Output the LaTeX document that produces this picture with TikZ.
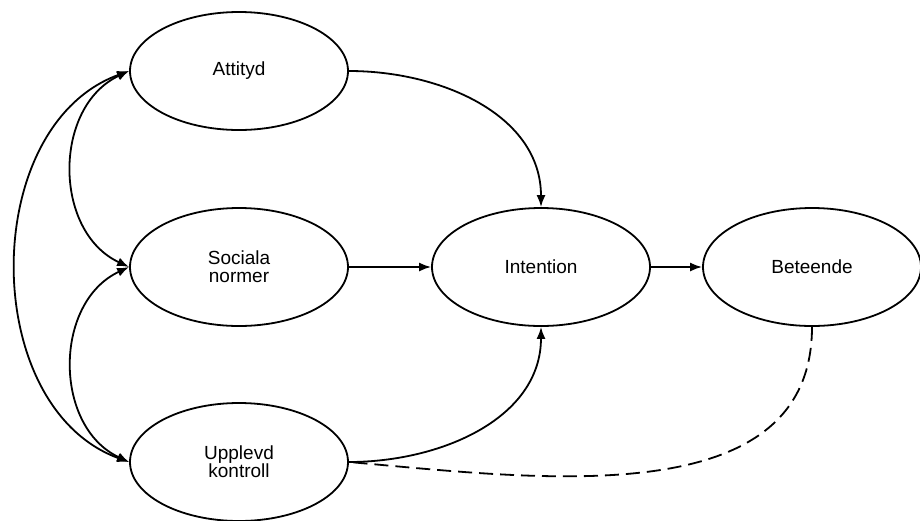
\documentclass[tikz,border=0pt]{standalone}
\usepackage{fontspec}
\setmainfont{Liberation Sans}
\usetikzlibrary{shapes.geometric,arrows.meta}

\begin{document}
\begin{tikzpicture}[x=1pt,y=-1pt,line width=1.8pt,>={Latex[length=12pt,width=9pt]}]

        \useasboundingbox (0,0) rectangle (920,520);

        \begin{scope}[every node/.style={ellipse,draw,minimum width=218pt,minimum height=118pt,
            inner sep=0pt,align=center,font=\fontsize{19}{18}\selectfont}]
          \node (att) at (239,71)  {Attityd};
          \node (soc) at (239,267) {Sociala\\normer};
          \node (upp) at (239,462) {Upplevd\\kontroll};
          \node (int) at (541,267) {Intention};
          \node (bet) at (812,267) {Beteende};
        \end{scope}

        \path (att.east) edge[->,out=0,in=90] (int.north);
        \path (soc.east) edge[->] (int.west);
        \path (upp.east) edge[->,out=0,in=-90] (int.south);
        \path (int.east) edge[->] (bet.west);
        \path (bet.south) edge[dashed,dash pattern=on 14pt off 7pt,out=-90,in=-5] (upp.east);

        % korrelationer
        \path (att.west) edge[<->,out=205,in=155,looseness=1.1] (soc.west);
        \path (soc.west) edge[<->,out=205,in=155,looseness=1.1] (upp.west);
        \path (att.west) edge[<->,out=200,in=160,looseness=1.05] (upp.west);

      \end{tikzpicture}
\end{document}
